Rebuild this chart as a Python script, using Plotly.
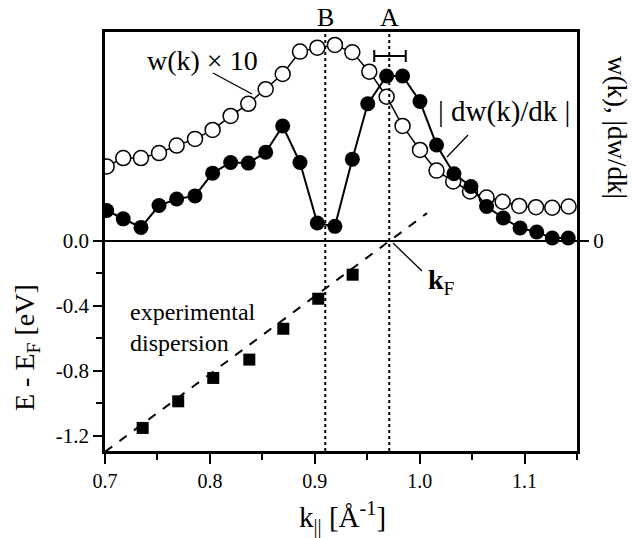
import plotly.graph_objects as go

# ---------------- data ----------------
# top panel: w(k) x 10 (open circles) and |dw/dk| (filled circles), arbitrary units
k_w = [0.7016, 0.7174, 0.7343, 0.7515, 0.7683, 0.7858, 0.8026, 0.8198, 0.8366, 0.8532,
       0.8694, 0.8859, 0.9024, 0.9192, 0.9358, 0.9520, 0.9685, 0.9837, 1.0003, 1.0161,
       1.0320, 1.0480, 1.0638, 1.0791, 1.0949, 1.1109, 1.1264, 1.1420]
w_vals = [0.356, 0.396, 0.396, 0.420, 0.456, 0.488, 0.531, 0.598, 0.656, 0.726,
          0.799, 0.906, 0.925, 0.938, 0.903, 0.810, 0.690, 0.550, 0.435, 0.336,
          0.284, 0.236, 0.207, 0.187, 0.167, 0.161, 0.158, 0.164]
k_dw = [0.7016, 0.7174, 0.7343, 0.7515, 0.7683, 0.7858, 0.8026, 0.8198, 0.8366, 0.8532,
        0.8694, 0.8859, 0.9024, 0.9192, 0.9358, 0.9505, 0.9685, 0.9837, 1.0003, 1.0161,
        1.0327, 1.0489, 1.0638, 1.0797, 1.0957, 1.1116, 1.1264, 1.1417]
dw_vals = [0.145, 0.105, 0.064, 0.169, 0.200, 0.215, 0.324, 0.375, 0.372, 0.424,
           0.550, 0.375, 0.085, 0.069, 0.391, 0.656, 0.789, 0.789, 0.667, 0.459,
           0.321, 0.260, 0.164, 0.109, 0.061, 0.042, 0.013, 0.013]

# bottom panel: experimental dispersion
k_disp = [0.7359, 0.7698, 0.8032, 0.8376, 0.8700, 0.9033, 0.9361]
E_disp = [-1.153, -0.989, -0.845, -0.732, -0.542, -0.357, -0.209]
k_fit = [0.700, 1.007]
E_fit = [-1.300, 0.170]

# markers
k_A, k_B = 0.971, 0.910
errbar_k, errbar_y, errbar_half = 0.9717, 0.885, 0.0150

x_ticks = [0.7, 0.8, 0.9, 1.0, 1.1]
x_ticklabels = ["0.7", "0.8", "0.9", "1.0", "1.1"]
x_minor = [0.75, 0.85, 0.95, 1.05, 1.15]
y_ticks = [0.0, -0.4, -0.8, -1.2]
y_ticklabels = ["0.0", "-0.4", "-0.8", "-1.2"]
y_minor = [-0.2, -0.6, -1.0]

# ---------------- layout geometry ----------------
W, H = 633, 538
X0, X1, Y0, Y1 = 105, 577, 32, 451          # plot frame in pixels
YLO, YHI = -1.295, 1.286
FONT = "Liberation Serif, Times New Roman, DejaVu Serif, serif"


def px(x):
    return (x - X0) / (X1 - X0)


def py(y):
    return (Y1 - y) / (Y1 - Y0)


fig = go.Figure()

# dashed fit line
fig.add_trace(go.Scatter(x=k_fit, y=E_fit, mode="lines",
                         line=dict(color="black", width=2, dash="dash"),
                         showlegend=False))
# dispersion squares
fig.add_trace(go.Scatter(x=k_disp, y=E_disp, mode="markers",
                         marker=dict(symbol="square", size=12, color="black"),
                         showlegend=False))
# w(k) open circles
fig.add_trace(go.Scatter(x=k_w, y=w_vals, mode="lines+markers", yaxis="y2",
                         line=dict(color="black", width=1.5),
                         marker=dict(symbol="circle", size=15, color="white",
                                     line=dict(color="black", width=1.5)),
                         showlegend=False))
# |dw/dk| filled circles
fig.add_trace(go.Scatter(x=k_dw, y=dw_vals, mode="lines+markers", yaxis="y2",
                         line=dict(color="black", width=2),
                         marker=dict(symbol="circle", size=15, color="black"),
                         showlegend=False))
# resolution bar
fig.add_trace(go.Scatter(x=[errbar_k], y=[errbar_y], mode="markers", yaxis="y2",
                         marker=dict(size=2, color="rgba(0,0,0,0)"),
                         error_x=dict(type="constant", value=errbar_half, color="black",
                                      thickness=2, width=6),
                         showlegend=False))

shapes = []
for kv in (k_A, k_B):
    shapes.append(dict(type="line", xref="x", yref="paper", x0=kv, x1=kv, y0=0, y1=1,
                       line=dict(color="black", width=2, dash="dot")))
# leader lines
for (xa, ya, xb, yb) in [(213, 73, 252, 94), (468, 135, 447, 157), (393, 243, 422, 271)]:
    shapes.append(dict(type="line", xref="paper", yref="paper",
                       x0=px(xa), y0=py(ya), x1=px(xb), y1=py(yb),
                       line=dict(color="black", width=1.3)))


def note(text, x, y, size, xref="paper", xanchor="center", **kw):
    return dict(text=text, x=x, y=y, xref=xref, yref="paper", showarrow=False,
                xanchor=xanchor, yanchor="middle", font=dict(size=size), **kw)


annotations = [
    note("B", k_B, py(18), 26, xref="x"),
    note("A", k_A, py(18), 26, xref="x"),
    note("w(k) × 10", px(202), py(60), 28),
    note("| dw(k)/dk |", px(504), py(112), 29),
    note("<b>k</b><sub>F</sub>", px(426), py(281), 28, xanchor="left"),
    note("experimental<br>dispersion", px(128), py(327), 24, xanchor="left", align="left"),
    note("E - E<sub>F</sub> [eV]", px(26), py(348), 28, textangle=-90),
    note("w(k), |dw/dk|", px(617), py(127), 27, textangle=90),
    note("k<sub>||</sub> [Å<sup>-1</sup>]", px(342), py(517), 29),
]

fig.update_layout(
    width=W, height=H,
    margin=dict(l=X0, r=W - X1, t=Y0, b=H - Y1),
    paper_bgcolor="white", plot_bgcolor="white",
    font=dict(family=FONT, color="black", size=20),
    shapes=shapes, annotations=annotations,
    xaxis=dict(range=[0.7, 1.15], tickmode="array", tickvals=x_ticks, ticktext=x_ticklabels,
               ticks="outside", ticklen=10, tickwidth=2, tickcolor="black",
               minor=dict(tickmode="array", tickvals=x_minor, ticks="outside",
                          ticklen=6, tickwidth=2, tickcolor="black"),
               showline=True, linewidth=2.5, linecolor="black", mirror=True,
               showgrid=False, zeroline=False, tickfont=dict(size=20)),
    yaxis=dict(range=[YLO, YHI], tickmode="array", tickvals=y_ticks, ticktext=y_ticklabels,
               ticks="outside", ticklen=9, tickwidth=2, tickcolor="black",
               minor=dict(tickmode="array", tickvals=y_minor, ticks="outside",
                          ticklen=6, tickwidth=2, tickcolor="black"),
               showline=True, linewidth=2.5, linecolor="black", mirror=True,
               showgrid=False, zeroline=True, zerolinewidth=2, zerolinecolor="black",
               tickfont=dict(size=21)),
    yaxis2=dict(range=[YLO / YHI, 1.0], overlaying="y", side="right",
                tickmode="array", tickvals=[0], ticktext=["0"],
                ticks="outside", ticklen=11, tickwidth=2, tickcolor="black",
                showline=False, showgrid=False, zeroline=False, tickfont=dict(size=21)),
)

# remove the browser's default 8px body margin so the figure sits at the window origin
fig.write_html("out.html", config={"displayModeBar": False},
               post_script="document.body.style.margin='0';")
